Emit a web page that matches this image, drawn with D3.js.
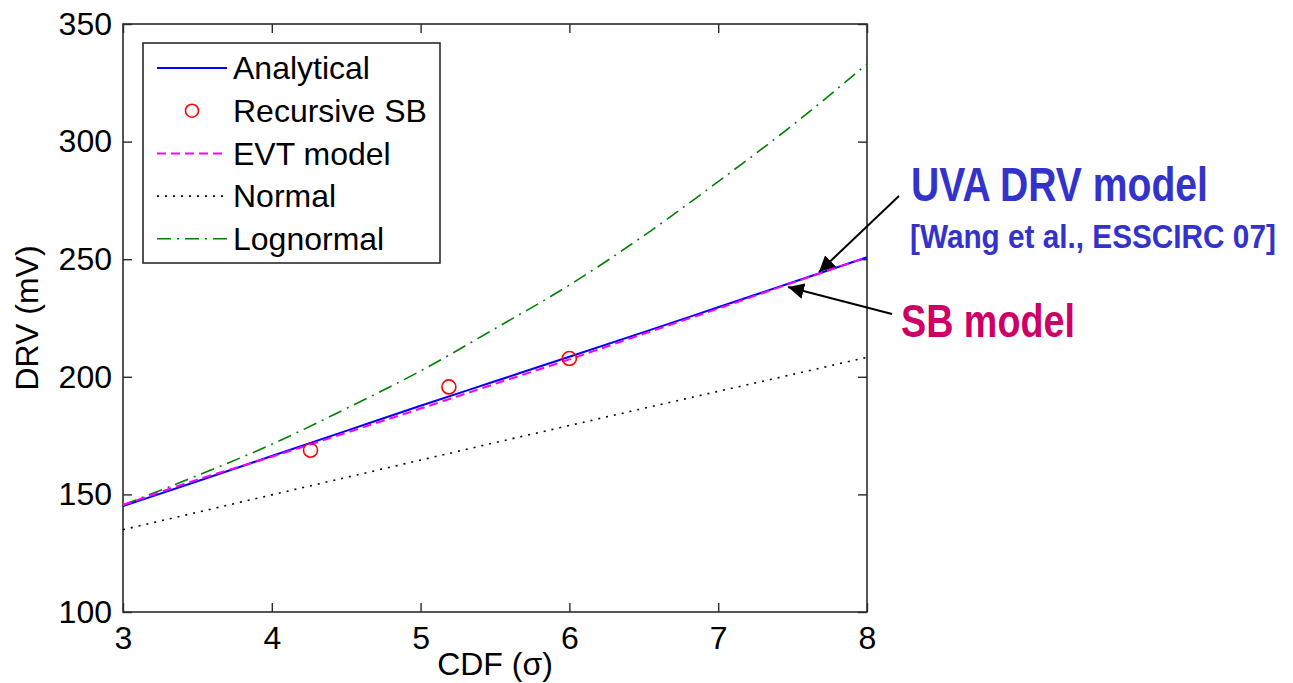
<!DOCTYPE html>
<html>
<head>
<meta charset="utf-8">
<script src="https://cdn.jsdelivr.net/npm/d3@7"></script>
<style>
  body { margin: 0; background: #fff; }
  text { font-family: "Liberation Sans", Arial, sans-serif; }
</style>
</head>
<body>
<div id="chart"></div>
<script>
// CDF (sigma) sample points
const sigma = [3, 3.5, 4, 4.5, 5, 5.5, 6, 6.5, 7, 7.5, 8];
const analytical = [145, 155.6, 166.3, 177, 187.7, 198.1, 208.5, 219, 229.6, 240.2, 250.8];
const evtModel = [145.5, 156.3, 166, 176.2, 186.5, 197, 207.4, 218.3, 229, 240, 250.8];
const normal = [135, 142.4, 149.8, 157.2, 164.6, 172, 179.3, 186.6, 193.8, 201, 208.3];
const lognormal = [145.5, 158, 171.3, 186.5, 202.5, 220.5, 239, 260, 283, 307, 333];
const recSigma = [4.26, 5.19, 6.0];
const recDRV = [168.8, 195.7, 207.8];

const xTicks = [3, 4, 5, 6, 7, 8];
const yTicks = [100, 150, 200, 250, 300, 350];

const W = 1293, H = 683;
const margin = { top: 24, right: 426, bottom: 71, left: 123 };
const width = W - margin.left - margin.right;
const height = H - margin.top - margin.bottom;

const svg = d3.select("#chart").append("svg")
    .attr("width", W)
    .attr("height", H);

const g = svg.append("g")
    .attr("transform", `translate(${margin.left},${margin.top})`);

const x = d3.scaleLinear().domain([3, 8]).range([0, width]);
const y = d3.scaleLinear().domain([100, 350]).range([height, 0]);

// box + inward ticks on all sides (matlab style)
g.append("rect")
    .attr("width", width)
    .attr("height", height)
    .attr("fill", "none")
    .attr("stroke", "#2b2b2b")
    .attr("stroke-width", 1.6);

const tickLen = 9;
g.append("g")
    .attr("transform", `translate(0,${height})`)
    .call(d3.axisBottom(x).tickValues(xTicks).tickFormat(d3.format("d")).tickSizeInner(-tickLen).tickSizeOuter(0).tickPadding(14))
    .call(a => a.select(".domain").remove())
    .call(a => a.selectAll("line").attr("stroke", "#2b2b2b").attr("stroke-width", 1.4))
    .call(a => a.selectAll("text").attr("font-size", 32).attr("fill", "#000")
        .attr("font-family", "Liberation Sans, Arial, sans-serif"));

g.append("g")
    .call(d3.axisTop(x).tickValues(xTicks).tickSizeInner(-tickLen).tickSizeOuter(0).tickFormat(""))
    .call(a => a.select(".domain").remove())
    .call(a => a.selectAll("line").attr("stroke", "#2b2b2b").attr("stroke-width", 1.4));

g.append("g")
    .call(d3.axisLeft(y).tickValues(yTicks).tickSizeInner(-tickLen).tickSizeOuter(0).tickPadding(11))
    .call(a => a.select(".domain").remove())
    .call(a => a.selectAll("line").attr("stroke", "#2b2b2b").attr("stroke-width", 1.4))
    .call(a => a.selectAll("text").attr("font-size", 32).attr("fill", "#000")
        .attr("font-family", "Liberation Sans, Arial, sans-serif"));

g.append("g")
    .attr("transform", `translate(${width},0)`)
    .call(d3.axisRight(y).tickValues(yTicks).tickSizeInner(-tickLen).tickSizeOuter(0).tickFormat(""))
    .call(a => a.select(".domain").remove())
    .call(a => a.selectAll("line").attr("stroke", "#2b2b2b").attr("stroke-width", 1.4));

// axis labels
g.append("text")
    .attr("x", width / 2)
    .attr("y", height + 63)
    .attr("text-anchor", "middle")
    .attr("font-size", 32)
    .text("CDF (σ)");

g.append("text")
    .attr("transform", "rotate(-90)")
    .attr("x", -height / 2)
    .attr("y", -85)
    .attr("text-anchor", "middle")
    .attr("font-size", 32)
    .text("DRV (mV)");

// series
const series = [
    { name: "Lognormal", vals: lognormal, color: "#008000", dash: "14,6,2,6", w: 1.6 },
    { name: "Normal", vals: normal, color: "#000000", dash: "2,6", w: 1.6 },
    { name: "Analytical", vals: analytical, color: "#0000ff", dash: null, w: 2 },
    { name: "EVT model", vals: evtModel, color: "#ff00ff", dash: "9,5", w: 2 }
];

const line = d3.line()
    .x(d => x(d[0]))
    .y(d => y(d[1]))
    .curve(d3.curveMonotoneX);

series.forEach(s => {
    g.append("path")
        .datum(sigma.map((v, i) => [v, s.vals[i]]))
        .attr("fill", "none")
        .attr("stroke", s.color)
        .attr("stroke-width", s.w)
        .attr("stroke-dasharray", s.dash)
        .attr("d", line);
});

g.selectAll("circle.rec")
    .data(recSigma.map((v, i) => [v, recDRV[i]]))
    .enter()
    .append("circle")
    .attr("class", "rec")
    .attr("cx", d => x(d[0]))
    .attr("cy", d => y(d[1]))
    .attr("r", 7)
    .attr("fill", "none")
    .attr("stroke", "#ff0000")
    .attr("stroke-width", 1.6);

// legend
const legend = svg.append("g").attr("transform", "translate(143,43)");
legend.append("rect")
    .attr("width", 297)
    .attr("height", 220)
    .attr("fill", "#fff")
    .attr("stroke", "#2b2b2b")
    .attr("stroke-width", 1.6);

const legendItems = [
    { name: "Analytical", color: "#0000ff", dash: null, w: 2 },
    { name: "Recursive SB", color: "#ff0000", marker: true },
    { name: "EVT model", color: "#ff00ff", dash: "9,5", w: 2 },
    { name: "Normal", color: "#000000", dash: "2,6", w: 1.6 },
    { name: "Lognormal", color: "#008000", dash: "14,6,2,6", w: 1.6 }
];

legendItems.forEach((d, i) => {
    const ly = 25 + i * 42.7;
    if (d.marker) {
        legend.append("circle")
            .attr("cx", 49).attr("cy", ly).attr("r", 6.5)
            .attr("fill", "none").attr("stroke", d.color).attr("stroke-width", 1.6);
    } else {
        legend.append("line")
            .attr("x1", 14).attr("x2", 84)
            .attr("y1", ly).attr("y2", ly)
            .attr("stroke", d.color)
            .attr("stroke-width", d.w)
            .attr("stroke-dasharray", d.dash);
    }
    legend.append("text")
        .attr("x", 90)
        .attr("y", ly)
        .attr("dy", "0.35em")
        .attr("font-size", 32)
        .text(d.name);
});

// annotations
const defs = svg.append("defs");
defs.append("marker")
    .attr("id", "arrow")
    .attr("viewBox", "0 0 10 10")
    .attr("refX", 10).attr("refY", 5)
    .attr("markerWidth", 16).attr("markerHeight", 16)
    .attr("markerUnits", "userSpaceOnUse")
    .attr("orient", "auto")
    .append("path")
    .attr("d", "M0,0 L10,5 L0,10 z")
    .attr("fill", "#000");

svg.append("line")
    .attr("x1", 899).attr("y1", 196)
    .attr("x2", 819).attr("y2", 272)
    .attr("stroke", "#000").attr("stroke-width", 2)
    .attr("marker-end", "url(#arrow)");

svg.append("line")
    .attr("x1", 892).attr("y1", 314)
    .attr("x2", 788).attr("y2", 287)
    .attr("stroke", "#000").attr("stroke-width", 2)
    .attr("marker-end", "url(#arrow)");

// condensed bold labels: squeeze horizontally to the widths seen in the picture
function squeezed(tx, ty, size, color, target, str) {
    const t = svg.append("text")
        .attr("font-size", size)
        .attr("font-weight", "bold")
        .attr("fill", color)
        .text(str);
    const natural = t.node().getComputedTextLength();
    t.attr("transform", `translate(${tx},${ty}) scale(${target / natural},1)`);
}

squeezed(911, 201, 48, "#3333cc", 297, "UVA DRV model");
squeezed(910, 248, 34, "#3333cc", 366, "[Wang et al., ESSCIRC 07]");
squeezed(901, 337, 46, "#cc0066", 174, "SB model");
</script>
</body>
</html>
